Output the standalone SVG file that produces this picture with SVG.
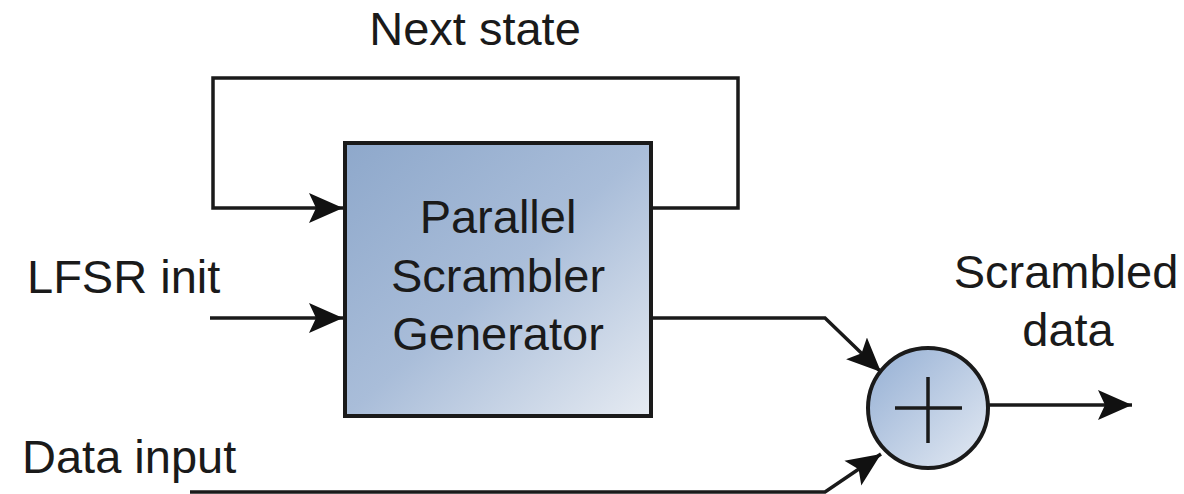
<svg xmlns="http://www.w3.org/2000/svg" width="1184" height="494" viewBox="0 0 1184 494">
<defs>
<linearGradient id="boxGrad" x1="0" y1="0" x2="1" y2="1">
<stop offset="0" stop-color="#8ea8cb"/>
<stop offset="0.5" stop-color="#a9bdd9"/>
<stop offset="1" stop-color="#e6ebf2"/>
</linearGradient>
<linearGradient id="circGrad" x1="0" y1="0" x2="1" y2="1">
<stop offset="0" stop-color="#94afd4"/>
<stop offset="1" stop-color="#e4eaf3"/>
</linearGradient>
<marker id="arr" markerUnits="userSpaceOnUse" markerWidth="36" markerHeight="32" refX="34" refY="16" orient="auto" viewBox="0 0 36 32">
<path d="M0,1 L34,16 L0,31 L7,16 Z" fill="#111"/>
</marker>
</defs>
<style>
.lbl{font-family:"Liberation Sans",Arial,sans-serif;font-size:47px;fill:#1a1a1a}
.wire{fill:none;stroke:#1a1a1a;stroke-width:3.5;stroke-linejoin:miter}
.shape{stroke:#1a1a1a;stroke-width:4}
</style>
<rect width="1184" height="494" fill="#ffffff"/>
<g id="connectors">
<path class="wire" d="M652,208 H738 V78 H213 V208 H343" marker-end="url(#arr)"/>
<path class="wire" d="M210,318 H343" marker-end="url(#arr)"/>
<path class="wire" d="M652,318 H825 L881,372" marker-end="url(#arr)"/>
<path class="wire" d="M190,492 H825 L881,454" marker-end="url(#arr)"/>
<path class="wire" d="M988,405 H1132" marker-end="url(#arr)"/>
</g>
<g id="generator">
<rect class="shape" x="345" y="143" width="306" height="273" fill="url(#boxGrad)"/>
<text class="lbl" x="498" y="233" text-anchor="middle">Parallel</text>
<text class="lbl" x="498" y="292" text-anchor="middle">Scrambler</text>
<text class="lbl" x="498" y="350" text-anchor="middle">Generator</text>
</g>
<g id="xor">
<circle class="shape" cx="928" cy="408" r="60" fill="url(#circGrad)"/>
<path d="M895,408 H962 M928,377 V443" stroke="#1a1a1a" stroke-width="3.5"/>
</g>
<g id="labels">
<text class="lbl" x="475" y="45" text-anchor="middle">Next state</text>
<text class="lbl" x="27" y="293">LFSR init</text>
<text class="lbl" x="22" y="473">Data input</text>
<text class="lbl" x="1066" y="288" text-anchor="middle">Scrambled</text>
<text class="lbl" x="1068" y="346" text-anchor="middle">data</text>
</g>
</svg>
